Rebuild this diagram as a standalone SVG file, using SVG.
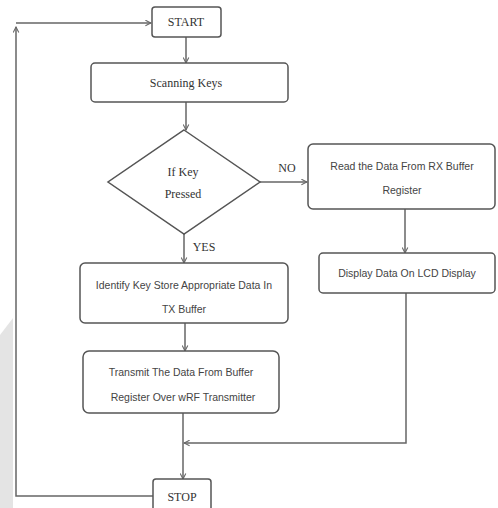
<svg xmlns="http://www.w3.org/2000/svg" width="498" height="508" viewBox="0 0 498 508">
<defs>
<style>
.box{fill:#fff;stroke:#555;stroke-width:1.5}
.ln{fill:none;stroke:#666;stroke-width:1.5}
.serif{font-family:"Liberation Serif","Times New Roman",serif;font-size:12px;fill:#333;text-anchor:middle}
.sans{font-family:"Liberation Sans Narrow","Liberation Sans",Arial,sans-serif;font-size:10.5px;fill:#444;text-anchor:middle}
</style>
<marker id="ah" viewBox="0 0 10 10" refX="9" refY="5" markerWidth="7" markerHeight="7" orient="auto" markerUnits="userSpaceOnUse">
<path d="M1,1 L9,5 L1,9" fill="none" stroke="#666" stroke-width="1.5"/>
</marker>
</defs>
<rect width="498" height="508" fill="#fff"/>
<polygon points="0,335 13,318 13,508 0,508" fill="#e4e4e4"/>
<g id="connectors">
<line class="ln" x1="186" y1="37" x2="186" y2="63" marker-end="url(#ah)"/>
<line class="ln" x1="186" y1="102" x2="186" y2="130" marker-end="url(#ah)"/>
<line class="ln" x1="260" y1="182" x2="307" y2="182" marker-end="url(#ah)"/>
<line class="ln" x1="405" y1="209" x2="405" y2="253" marker-end="url(#ah)"/>
<line class="ln" x1="184" y1="234" x2="184" y2="263" marker-end="url(#ah)"/>
<line class="ln" x1="185" y1="323" x2="185" y2="351" marker-end="url(#ah)"/>
<line class="ln" x1="183" y1="413" x2="183" y2="479" marker-end="url(#ah)"/>
<polyline class="ln" points="406,293 406,443 184,443" marker-end="url(#ah)"/>
<polyline class="ln" points="153,496 16,496 16,27" marker-end="url(#ah)"/>
<line class="ln" x1="16" y1="23" x2="151" y2="23" marker-end="url(#ah)"/>
<text class="serif" x="287" y="172">NO</text>
<text class="serif" x="204" y="251">YES</text>
</g>
<g id="start">
<rect class="box" x="152" y="7" width="69" height="30" rx="3"/>
<text class="serif" x="186" y="26">START</text>
</g>
<g id="scan">
<rect class="box" x="91" y="63" width="197" height="39" rx="4"/>
<text class="serif" x="186" y="87">Scanning Keys</text>
</g>
<g id="decision">
<polygon class="box" points="184,130 260,182 184,234 108,182"/>
<text class="serif" x="183" y="176">If Key</text>
<text class="serif" x="183" y="198">Pressed</text>
</g>
<g id="read">
<rect class="box" x="308" y="144" width="187" height="65" rx="5"/>
<text class="sans" x="402" y="170">Read the Data From RX Buffer</text>
<text class="sans" x="402" y="194">Register</text>
</g>
<g id="display">
<rect class="box" x="319" y="253" width="176" height="40" rx="4"/>
<text class="sans" x="407" y="277">Display Data On LCD Display</text>
</g>
<g id="identify">
<rect class="box" x="80" y="263" width="208" height="60" rx="5"/>
<text class="sans" x="184" y="289">Identify Key Store Appropriate Data In</text>
<text class="sans" x="184" y="313">TX Buffer</text>
</g>
<g id="transmit">
<rect class="box" x="83" y="351" width="196" height="62" rx="6"/>
<text class="sans" x="181" y="376">Transmit The Data From Buffer</text>
<text class="sans" x="183" y="401">Register Over wRF Transmitter</text>
</g>
<g id="stop">
<rect class="box" x="153" y="479" width="58" height="36" rx="3"/>
<text class="serif" x="182" y="501">STOP</text>
</g>
</svg>
